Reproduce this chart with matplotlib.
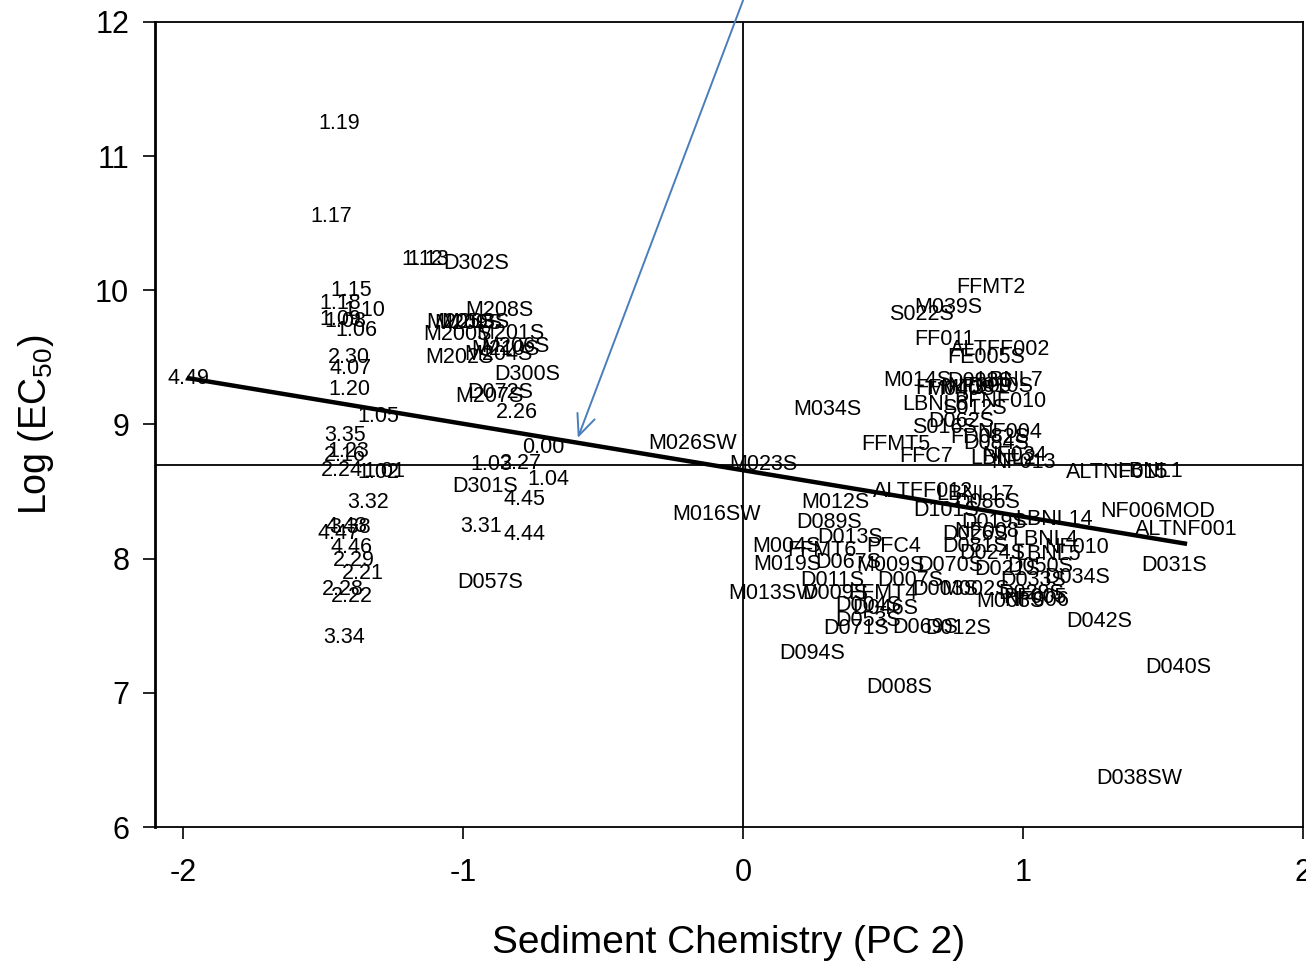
"""Sediment chemistry PC2 vs log EC50 with sample labels."""

import matplotlib
matplotlib.use("Agg")
import matplotlib.pyplot as plt

plt.rcParams["font.family"] = ["Liberation Sans", "DejaVu Sans"]
plt.rcParams["mathtext.fontset"] = "custom"
plt.rcParams["mathtext.rm"] = "Liberation Sans"
plt.rcParams["mathtext.it"] = "Liberation Sans:italic"
plt.rcParams["axes.unicode_minus"] = False

# sample labels and their (PC2, log EC50) positions
labels = [
    "1.19", "1.17", "1.12", "1.13", "D302S", "1.15", "1.18", "1.10", "1.09", "1.08",
    "1.06", "2.30", "4.07", "4.49", "1.20", "1.05", "3.35", "1.23", "2.16", "2.24",
    "1.02", "1.01", "3.32", "4.43", "3.38", "4.47", "4.46", "2.29", "2.21", "2.28",
    "2.22", "3.34",
    "M208S", "M205S", "M209S", "M203S", "M201S", "M200S", "M206S", "M210S", "M204S",
    "M202S", "D300S", "D072S", "M207S", "2.26", "0.00", "1.03", "2.27", "1.04",
    "D301S", "4.45", "3.31", "4.44", "D057S",
    "M026SW", "M023S", "M016SW", "M012S", "D089S", "D013S", "M004S", "FFMT6", "PFC4",
    "M019S", "D067S", "M009S", "D070S", "D011S", "D007S", "M013SW", "D009S", "FFMT4",
    "D004S", "D046S", "D053S", "D071S", "D069S", "D012S", "D094S", "D008S",
    "FFMT2", "M039S", "S022S", "FF011", "ALTFF002", "FE005S", "M014S", "LBNL7", "D098S",
    "FFMT3", "NF009", "M040S", "D010S", "LBNL8", "PFNF010", "S012S", "M034S", "D062S",
    "S016S", "NF004", "FD082S", "D084S", "FFMT5", "FFC7", "LBNL2", "NF034", "NF013",
    "ALTNF015", "LBNL1", "NF006MOD", "ALTNF001", "D031S", "D042S", "D040S", "D038SW",
    "ALTFF012", "LBNL17", "D086S", "D101S", "D019S", "LBNL14", "NF008", "D026S",
    "LBNL4", "D081S", "D024S", "NF010", "LBNL5", "D050S", "D021S", "D034S", "D033S",
    "D003S", "M002S", "D029S", "M003S", "NF006", "PF005",
]
pc2 = [
    -1.443, -1.471, -1.146, -1.125, -0.954, -1.400, -1.439, -1.354, -1.439, -1.421,
    -1.382, -1.407, -1.400, -1.982, -1.407, -1.304, -1.421, -1.411, -1.421, -1.432,
    -1.304, -1.282, -1.339, -1.418, -1.404, -1.443, -1.400, -1.389, -1.357, -1.429,
    -1.396, -1.425,
    -0.871, -1.011, -0.982, -0.957, -0.832, -1.018, -0.814, -0.850, -0.875,
    -1.014, -0.771, -0.868, -0.904, -0.807, -0.714, -0.900, -0.793, -0.696,
    -0.921, -0.779, -0.936, -0.779, -0.904,
    -0.179, 0.071, -0.093, 0.329, 0.307, 0.382, 0.154, 0.282, 0.539,
    0.157, 0.375, 0.525, 0.739, 0.318, 0.596, 0.104, 0.329, 0.500,
    0.446, 0.507, 0.446, 0.404, 0.650, 0.768, 0.246, 0.557,
    0.886, 0.732, 0.639, 0.718, 0.918, 0.868, 0.621, 0.954, 0.846,
    0.739, 0.846, 0.775, 0.918, 0.686, 0.918, 0.825, 0.300, 0.779,
    0.721, 0.954, 0.882, 0.904, 0.546, 0.654, 0.929, 0.971, 1.000,
    1.336, 1.454, 1.482, 1.582, 1.539, 1.271, 1.554, 1.414,
    0.643, 0.829, 0.871, 0.725, 0.896, 1.111, 0.871, 0.829,
    1.079, 0.829, 0.889, 1.193, 1.089, 1.061, 0.943, 1.193, 1.036,
    0.721, 0.829, 1.029, 0.954, 1.050, 1.043,
]
log_ec50 = [
    11.24, 10.55, 10.23, 10.23, 10.20, 10.00, 9.90, 9.85, 9.78, 9.77,
    9.70, 9.50, 9.42, 9.34, 9.26, 9.06, 8.92, 8.80, 8.77, 8.66,
    8.64, 8.65, 8.42, 8.24, 8.23, 8.19, 8.08, 7.99, 7.89, 7.77,
    7.72, 7.41,
    9.85, 9.76, 9.75, 9.76, 9.68, 9.67, 9.58, 9.56, 9.52,
    9.50, 9.37, 9.24, 9.21, 9.09, 8.83, 8.70, 8.71, 8.59,
    8.54, 8.44, 8.24, 8.18, 7.82,
    8.86, 8.70, 8.33, 8.42, 8.27, 8.16, 8.09, 8.06, 8.09,
    7.96, 7.97, 7.95, 7.95, 7.84, 7.84, 7.74, 7.74, 7.74,
    7.65, 7.63, 7.54, 7.48, 7.49, 7.48, 7.29, 7.04,
    10.02, 9.87, 9.82, 9.63, 9.56, 9.50, 9.33, 9.33, 9.32,
    9.27, 9.28, 9.26, 9.28, 9.15, 9.17, 9.12, 9.11, 9.02,
    8.98, 8.94, 8.90, 8.86, 8.85, 8.76, 8.75, 8.77, 8.72,
    8.64, 8.65, 8.35, 8.22, 7.95, 7.53, 7.19, 6.36,
    8.50, 8.48, 8.42, 8.36, 8.27, 8.29, 8.20, 8.18,
    8.14, 8.09, 8.04, 8.08, 8.03, 7.94, 7.92, 7.86, 7.84,
    7.77, 7.77, 7.74, 7.68, 7.69, 7.71,
]

# regression line end points
fit_x = [-1.986, 1.586]
fit_y = [9.347, 8.11]

# reference cross lines and the arrow
ref_y = 8.70
ref_x = 0.0
arrow_from = (0.0, 12.16)
arrow_to = (-0.59, 8.90)

x_ticks = [-2, -1, 0, 1, 2]
y_ticks = [6, 7, 8, 9, 10, 11, 12]

fig = plt.figure(figsize=(13.06, 9.64), dpi=100)
ax = fig.add_axes([0.1187, 0.1421, 0.879, 0.8351])

ax.axhline(ref_y, color="black", lw=1.3)
ax.axvline(ref_x, color="black", lw=1.3)
ax.plot(fit_x, fit_y, color="black", lw=3.2, solid_capstyle="butt")

for lab, xv, yv in zip(labels, pc2, log_ec50):
    ax.text(xv, yv, lab, fontsize=15.5, ha="center", va="center")

ax.annotate(
    "", xy=arrow_to, xytext=arrow_from, annotation_clip=False,
    arrowprops=dict(arrowstyle="->,head_length=0.5,head_width=0.22",
                    color="#4a7ebb", lw=1.4, mutation_scale=30,
                    shrinkA=0, shrinkB=0),
)

ax.set_xlim(-2.1, 2.0)
ax.set_ylim(6, 12)
ax.set_xticks(x_ticks)
ax.set_yticks(y_ticks)
ax.tick_params(axis="both", direction="out", length=8.6, width=1.2, labelsize=22)
ax.tick_params(axis="x", pad=14)
ax.tick_params(axis="y", pad=10)
for sp in ax.spines.values():
    sp.set_linewidth(1.3)
ax.spines["left"].set_linewidth(2.0)

ax.set_xlabel("Sediment Chemistry (PC 2)", fontsize=28, labelpad=26)
ax.set_ylabel(r"Log (EC$_{50}$)", fontsize=27, labelpad=28)

fig.savefig("out.png", dpi=100)
